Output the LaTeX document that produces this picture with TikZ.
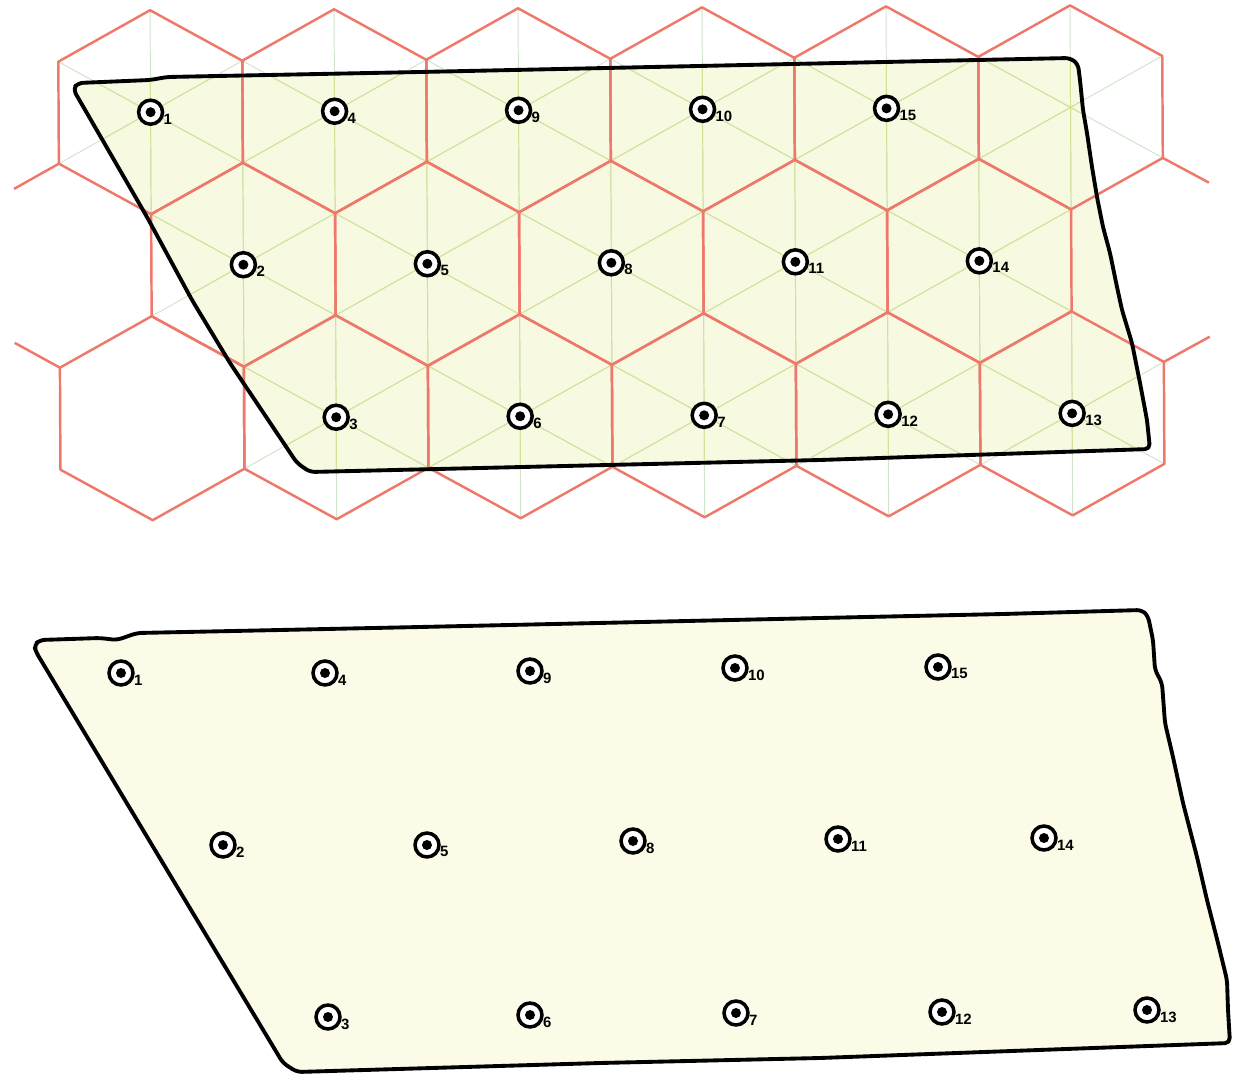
\documentclass[tikz,border=0pt]{standalone}
\usepackage{fontspec}
\setsansfont{Liberation Sans}
\usepackage{tikz}
\usetikzlibrary{positioning}
\usepackage{xcolor}
\definecolor{hexred}{RGB}{238,120,106}
\definecolor{spokein}{RGB}{210,226,150}
\definecolor{spokeout}{RGB}{208,228,204}
\definecolor{paper}{RGB}{247,249,224}
\definecolor{paper2}{RGB}{252,251,232}
\newcommand{\plotupper}{(78,83) -- (150,80) -- (167,77) -- (420,72) -- (1070,58)
  -- (1078,64) -- (1080,80) -- (1083,110) -- (1087,133) -- (1092,167) -- (1097,197)
  -- (1103,227) -- (1110,253) -- (1117,287) -- (1122,310) -- (1132,343) -- (1140,383)
  -- (1147,420) -- (1150,449) -- (820,460) -- (310,472) -- (297,463) -- (230,363)
  -- (192,300) -- (147,217) -- (73,89) -- cycle}
\newcommand{\plotlower}{(40,640) -- (100,638) -- (117,640) -- (137,633) -- (233,631)
  -- (420,627) -- (820,618) -- (1003,614) -- (1142,610) -- (1148,616) -- (1153,640)
  -- (1155,670) -- (1162,683) -- (1165,723) -- (1173,757) -- (1183,803) -- (1197,857)
  -- (1207,900) -- (1218,943) -- (1227,980) -- (1228,1010) -- (1230,1043) -- (820,1058)
  -- (600,1063) -- (297,1072) -- (283,1063) -- (36,652) -- (34,645) -- cycle}

\begin{document}
\begin{tikzpicture}[x=0.02cm, y=-0.02cm,
   hexedge/.style={draw=hexred, line width=1.4pt, line join=round},
   spoke/.style={draw=spokeout, line width=0.55pt},
   outline/.style={draw=black, line width=2.2pt, line join=round, rounded corners=0.1cm},
   num/.style={font=\sffamily\bfseries\fontsize{8.5}{8.5}\selectfont, inner sep=0.5pt, anchor=west},
   sta/.style={circle, draw, line width=2pt, fill=white, minimum size=0.48cm, inner sep=0pt,
      path picture={\fill[black] (path picture bounding box.center) circle (0.1cm);}}]

  \useasboundingbox (0,0) rectangle (1235,1075);

  % upper plot: fill under the grid
  \fill[paper, rounded corners=0.1cm] \plotupper;

  % spokes of each cell, pale outside the plot
  \begin{scope}[rotate=0.3]
    \foreach \cx/\cy in {150/113, 334/113, 518/113, 702/113, 886/113, 1070/113,
                         242/266, 426/266, 610/266, 794/266, 978/266,
                         334/419, 518/419, 702/419, 886/419, 1070/419}
      \draw[spoke] (\cx,\cy) -- ++(0,-102) (\cx,\cy) -- ++(92,-51) (\cx,\cy) -- ++(92,51)
                   (\cx,\cy) -- ++(0,102) (\cx,\cy) -- ++(-92,51) (\cx,\cy) -- ++(-92,-51);
  \end{scope}
  % spokes again inside the plot
  \begin{scope}
    \clip \plotupper;
    \begin{scope}[rotate=0.3]
      \foreach \cx/\cy in {150/113, 334/113, 518/113, 702/113, 886/113, 1070/113,
                           242/266, 426/266, 610/266, 794/266, 978/266,
                           334/419, 518/419, 702/419, 886/419, 1070/419}
        \draw[spoke, draw=spokein] (\cx,\cy) -- ++(0,-102) (\cx,\cy) -- ++(92,-51) (\cx,\cy) -- ++(92,51)
                     (\cx,\cy) -- ++(0,102) (\cx,\cy) -- ++(-92,51) (\cx,\cy) -- ++(-92,-51);
    \end{scope}
  \end{scope}

  % hexagonal cells
  \begin{scope}[rotate=0.3]
    \foreach \cx/\cy in {150/113, 334/113, 518/113, 702/113, 886/113, 1070/113,
                         242/266, 426/266, 610/266, 794/266, 978/266,
                         150/419, 334/419, 518/419, 702/419, 886/419, 1070/419}
      \draw[hexedge] (\cx,\cy) ++(0,-102) -- ++(92,51) -- ++(0,102) -- ++(-92,51)
                     -- ++(-92,-51) -- ++(0,-102) -- cycle;
    \draw[hexedge] (58,164) -- (13,189);
    \draw[hexedge] (58,368) -- (13,343);
    \draw[hexedge] (1162,164) -- (1208,189);
    \draw[hexedge] (1162,368) -- (1208,343);

    % stations, upper plot
    \node[sta, label={[num]-30:1}] (t1) at (150,113) {};
    \node[sta, label={[num]-30:4}] (t4) at (334,113) {};
    \node[sta, label={[num]-30:9}] (t9) at (518,113) {};
    \node[sta, label={[num]-30:10}] (t10) at (702,113) {};
    \node[sta, label={[num]-30:15}] (t15) at (886,113) {};
    \node[sta, label={[num]-30:2}] (t2) at (242,266) {};
    \node[sta, label={[num]-30:5}] (t5) at (426,266) {};
    \node[sta, label={[num]-30:8}] (t8) at (610,266) {};
    \node[sta, label={[num]-30:11}] (t11) at (794,266) {};
    \node[sta, label={[num]-30:14}] (t14) at (978,266) {};
    \node[sta, label={[num]-30:3}] (t3) at (334,419) {};
    \node[sta, label={[num]-30:6}] (t6) at (518,419) {};
    \node[sta, label={[num]-30:7}] (t7) at (702,419) {};
    \node[sta, label={[num]-30:12}] (t12) at (886,419) {};
    \node[sta, label={[num]-30:13}] (t13) at (1070,419) {};
  \end{scope}

  \draw[outline] \plotupper;

  % lower plot
  \draw[outline, fill=paper2] \plotlower;
  \node[sta, label={[num]-30:1}] (b1) at (121,673) {};
  \node[sta, label={[num]-30:4}] (b4) at (325,673) {};
  \node[sta, label={[num]-30:9}] (b9) at (530,671) {};
  \node[sta, label={[num]-30:10}] (b10) at (735,668) {};
  \node[sta, label={[num]-30:15}] (b15) at (938,667) {};
  \node[sta, label={[num]-30:2}] (b2) at (223,845) {};
  \node[sta, label={[num]-30:5}] (b5) at (427,845) {};
  \node[sta, label={[num]-30:8}] (b8) at (633,841) {};
  \node[sta, label={[num]-30:11}] (b11) at (838,839) {};
  \node[sta, label={[num]-30:14}] (b14) at (1044,838) {};
  \node[sta, label={[num]-30:3}] (b3) at (328,1017) {};
  \node[sta, label={[num]-30:6}] (b6) at (530,1015) {};
  \node[sta, label={[num]-30:7}] (b7) at (736,1013) {};
  \node[sta, label={[num]-30:12}] (b12) at (942,1012) {};
  \node[sta, label={[num]-30:13}] (b13) at (1147,1010) {};
\end{tikzpicture}
\end{document}
